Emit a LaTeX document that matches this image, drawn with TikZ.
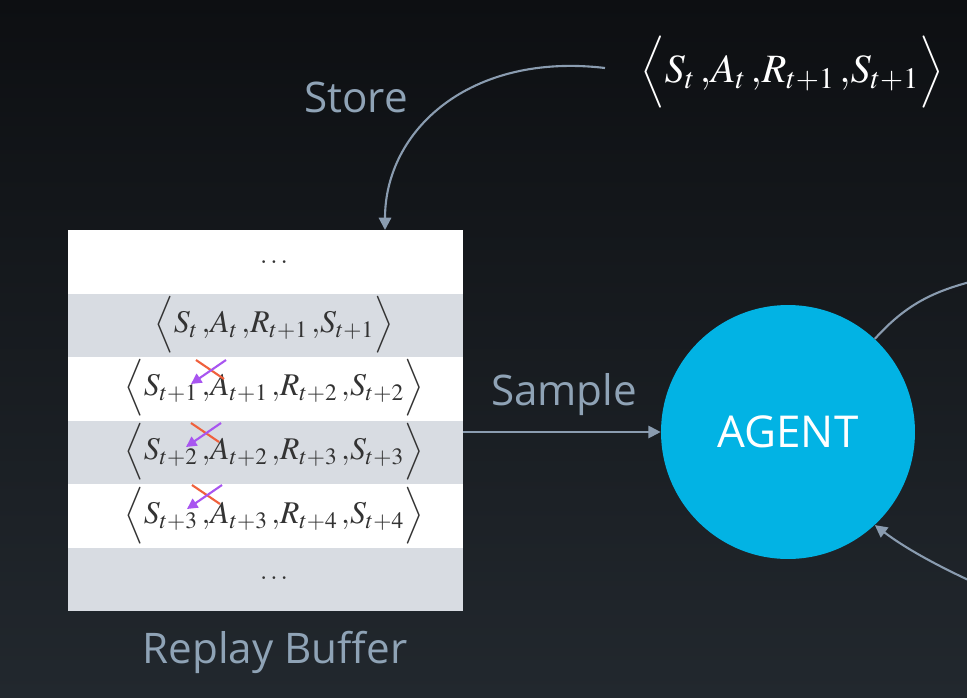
\documentclass[tikz,border=0pt]{standalone}
\usepackage{amsmath}
\usepackage{mathptmx}
\usepackage{fontspec}
\setsansfont{Open Sans}
\usetikzlibrary{arrows.meta}

\definecolor{bgtop}{HTML}{0D0F12}
\definecolor{bgbot}{HTML}{22282E}
\definecolor{rowgray}{HTML}{D8DCE2}
\definecolor{linkgray}{HTML}{8A9CB0}
\definecolor{labelgray}{HTML}{8FA3B6}
\definecolor{agentblue}{HTML}{02B3E4}
\definecolor{crossred}{HTML}{F0603C}
\definecolor{arrowviolet}{HTML}{A855F0}

% one stored transition
\newcommand{\tup}[4]{$\Bigl\langle S_{#1}\,{,}A_{#2}\,{,}R_{#3}\,{,}S_{#4}\Bigr\rangle$}

\tikzset{
  link/.style={draw=linkgray,line width=1.2pt,-{Triangle[length=7pt,width=7pt]}},
  label/.style={text=labelgray,font=\sffamily\fontsize{24}{28}\selectfont},
  cell/.style={text=black!80,font=\fontsize{18}{22}\selectfont,inner sep=0pt},
  dots/.style={text=black!80,font=\fontsize{15}{18}\selectfont,inner sep=0pt},
}

\begin{document}
\begin{tikzpicture}[x=0.02cm,y=-0.02cm]
  \useasboundingbox (0,0) rectangle (967,697);
  \shade[top color=bgtop,bottom color=bgbot] (0,0) rectangle (967,697);
  \clip (0,0) rectangle (967,697);
  % replay buffer rows
  \foreach \i/\fillc in {1/white,2/rowgray,3/white,4/rowgray,5/white,6/rowgray}{
    \fill[\fillc] (68,{230+(\i-1)*63.5}) rectangle (463,{230+\i*63.5});}
  \node[minimum width=7.9cm,minimum height=7.62cm,inner sep=0pt] (buf) at (265.5,420.5) {};
  \node[dots] (r1) at (274,262) {$\ldots$};
  \node[cell] (r2) at (274,325) {\tup{t}{t}{t+1}{t+1}};
  \node[cell] (r3) at (274,388) {\tup{t+1}{t+1}{t+2}{t+2}};
  \node[cell] (r4) at (274,452) {\tup{t+2}{t+2}{t+3}{t+3}};
  \node[cell] (r5) at (274,516) {\tup{t+3}{t+3}{t+4}{t+4}};
  \node[dots] (r6) at (274,578) {$\ldots$};
  % broken links between consecutive samples
  \foreach \x/\y in {196/360,191/423,192/485}{
    \draw[crossred,line width=1.2pt] (\x,\y) -- (\x+28,\y+19);
    \draw[arrowviolet,line width=1.2pt,-{Triangle[length=6pt,width=6pt]}] (\x+30,\y) -- (\x-5,\y+24);}
  \node[label] (buflabel) at (275,652) {Replay Buffer};
  % agent
  \node[circle,fill=agentblue,minimum size=5.08cm,inner sep=0pt,text=white,
        font=\sffamily\fontsize{25}{29}\selectfont] (agent) at (788,432) {AGENT};
  % new transition stored
  \node[text=white,font=\fontsize{18}{22}\selectfont,inner sep=0pt] (trans) at (792,72)
    {\scalebox{1.27}{\tup{t}{t}{t+1}{t+1}}};
  \coordinate (bufin) at (385,230);
  \draw[link] (605,68) .. controls (470,52) and (385,130) .. (bufin);
  \node[label] (store) at (356,97) {Store};
  % sampling
  \draw[link] (buf.east |- agent.west) -- (agent.west);
  \node[label] (sample) at (564,395) {Sample};
  % loop to the environment
  \coordinate (envout) at (995,276);
  \coordinate (envin) at (995,592);
  \draw[draw=linkgray,line width=1.2pt] (agent.47) .. controls (910,300) and (940,288) .. (envout);
  \draw[link] (envin) .. controls (940,568) and (905,548) .. (agent.-47);
\end{tikzpicture}
\end{document}
